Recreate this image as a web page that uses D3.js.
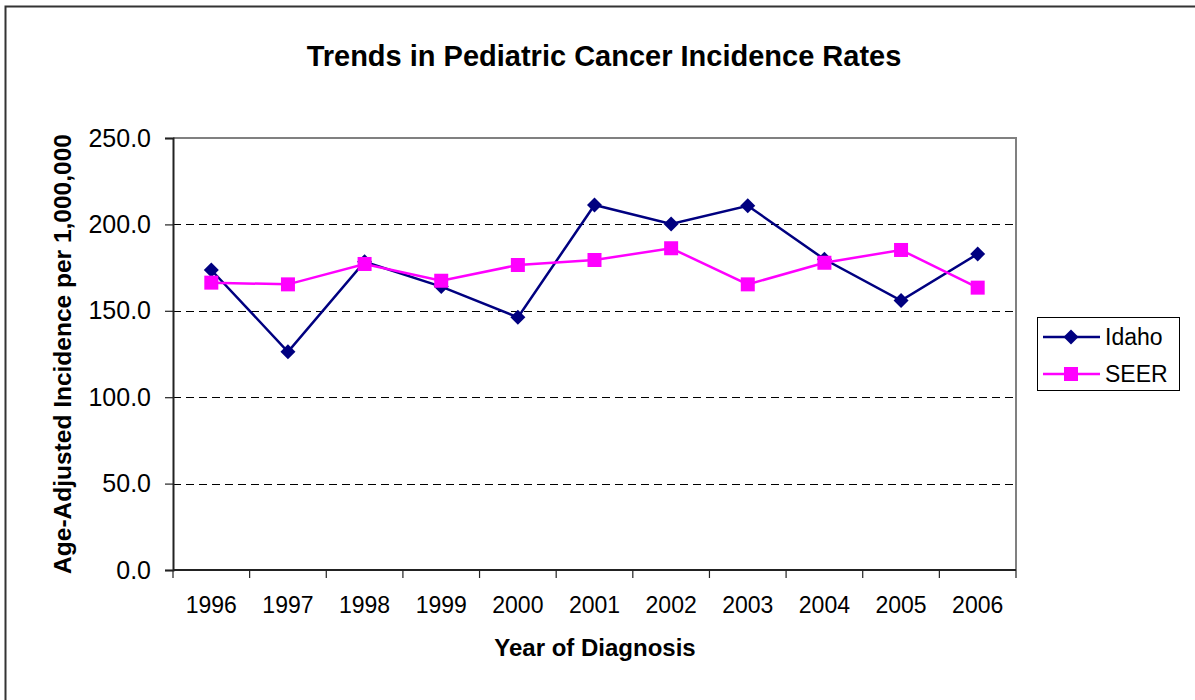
<!DOCTYPE html>
<html>
<head>
<meta charset="utf-8">
<script src="https://cdn.jsdelivr.net/npm/d3@7"></script>
<style>
  html, body { margin: 0; padding: 0; background: #fff; }
  svg { display: block; }
  text { font-family: Arial, "Liberation Sans", sans-serif; fill: #000; }
</style>
</head>
<body>
<svg id="chart" width="1195" height="700"></svg>
<script>
const years = ["1996","1997","1998","1999","2000","2001","2002","2003","2004","2005","2006"];
const idaho = [173.6, 126.3, 178.4, 164.0, 146.2, 211.2, 200.2, 210.8, 179.8, 155.9, 182.9];
const seer  = [166.3, 165.3, 177.1, 167.4, 176.5, 179.4, 186.2, 165.3, 177.8, 185.2, 163.4];
const yTicks = [0, 50, 100, 150, 200, 250];
const seriesNames = ["Idaho", "SEER"];

const svg = d3.select("#chart");
const W = 1195, H = 700;
const plot = {left: 173, right: 1016, top: 138, bottom: 570};

// outer chart border
svg.append("path").attr("d", `M5.5,${H} L5.5,6.5 L${W},6.5`)
  .attr("fill", "none").attr("stroke", "#333").attr("stroke-width", 2);

const x = d3.scaleBand().domain(years).range([plot.left, plot.right]).padding(0);
const y = d3.scaleLinear().domain([0, 250]).range([plot.bottom, plot.top]);

// gridlines
svg.append("g").selectAll("line").data(yTicks.filter(d => d > 0 && d < 250)).join("line")
  .attr("x1", plot.left).attr("x2", plot.right)
  .attr("y1", d => Math.round(y(d)) + 0.5).attr("y2", d => Math.round(y(d)) + 0.5)
  .attr("stroke", "#000").attr("stroke-width", 1).attr("stroke-dasharray", "8,5");

// plot border top/right (gray)
svg.append("path").attr("d", `M${plot.left},${plot.top} L${plot.right},${plot.top} L${plot.right},${plot.bottom}`)
  .attr("fill", "none").attr("stroke", "#808080").attr("stroke-width", 2);

// y axis
const yAxis = d3.axisLeft(y).tickValues(yTicks).tickSize(8).tickPadding(14)
  .tickFormat(d3.format(".1f"));
const gy = svg.append("g").attr("transform", `translate(${plot.left},0)`).call(yAxis);
gy.select(".domain").attr("stroke", "#222").attr("stroke-width", 2);
gy.selectAll(".tick line").attr("stroke", "#222").attr("stroke-width", 1.2);
gy.selectAll(".tick text").style("font-size", "25px").style("font-family", "Arial, 'Liberation Sans', sans-serif").attr("fill", "#000");

// x axis: ticks at category boundaries
const gx = svg.append("g").attr("transform", `translate(0,${plot.bottom})`);
gx.append("line").attr("x1", plot.left).attr("x2", plot.right).attr("y1", 0).attr("y2", 0)
  .attr("stroke", "#222").attr("stroke-width", 2);
const bounds = years.map(d => x(d)).concat([x(years[years.length-1]) + x.bandwidth()]);
gx.selectAll("line.tk").data(bounds).join("line").attr("class", "tk")
  .attr("x1", d => d).attr("x2", d => d).attr("y1", 0).attr("y2", 8)
  .attr("stroke", "#222").attr("stroke-width", 1.2);
gx.selectAll("text").data(years).join("text")
  .attr("x", d => x(d) + x.bandwidth()/2).attr("y", 43)
  .attr("text-anchor", "middle").style("font-size", "23px").text(d => d);

// titles
svg.append("text").attr("x", 604).attr("y", 66).attr("text-anchor", "middle")
  .style("font-size", "29px").style("font-weight", "bold")
  .text("Trends in Pediatric Cancer Incidence Rates");
svg.append("text").attr("x", 595).attr("y", 656).attr("text-anchor", "middle")
  .style("font-size", "24px").style("font-weight", "bold").text("Year of Diagnosis");
svg.append("text").attr("transform", `translate(71,${(plot.top+plot.bottom)/2}) rotate(-90)`)
  .attr("text-anchor", "middle")
  .style("font-size", "24.5px").style("font-weight", "bold")
  .text("Age-Adjusted Incidence per 1,000,000");

// series
const cx = d => x(d) + x.bandwidth()/2;
const line = d3.line().x((d, i) => cx(years[i])).y(d => y(d));
const colors = {Idaho: "#000080", SEER: "#FF00FF"};
const diamond = (s) => `M0,${-s} L${s},0 L0,${s} L${-s},0 Z`;

svg.append("path").datum(idaho).attr("d", line).attr("fill", "none")
  .attr("stroke", colors.Idaho).attr("stroke-width", 2.5);
svg.append("path").datum(seer).attr("d", line).attr("fill", "none")
  .attr("stroke", colors.SEER).attr("stroke-width", 2.5);

svg.append("g").selectAll("path").data(idaho).join("path")
  .attr("transform", (d, i) => `translate(${cx(years[i])},${y(d)})`)
  .attr("d", diamond(7.5)).attr("fill", colors.Idaho);
svg.append("g").selectAll("rect").data(seer).join("rect")
  .attr("x", (d, i) => cx(years[i]) - 7).attr("y", d => y(d) - 7)
  .attr("width", 14).attr("height", 14).attr("fill", colors.SEER);

// legend
const lg = svg.append("g");
lg.append("rect").attr("x", 1037.5).attr("y", 317.5).attr("width", 142).attr("height", 73)
  .attr("fill", "#fff").attr("stroke", "#000").attr("stroke-width", 1);
const ly = d3.scalePoint().domain(seriesNames).range([337, 374]);
seriesNames.forEach(n => {
  const yy = ly(n);
  lg.append("line").attr("x1", 1043).attr("x2", 1100).attr("y1", yy).attr("y2", yy)
    .attr("stroke", colors[n]).attr("stroke-width", 2.5);
  if (n === "Idaho") {
    lg.append("path").attr("transform", `translate(1071,${yy})`).attr("d", diamond(7.5)).attr("fill", colors[n]);
  } else {
    lg.append("rect").attr("x", 1064).attr("y", yy - 7).attr("width", 14).attr("height", 14).attr("fill", colors[n]);
  }
  lg.append("text").attr("x", 1105).attr("y", yy).attr("dy", "0.35em")
    .style("font-size", "23px").text(n);
});
</script>
</body>
</html>
